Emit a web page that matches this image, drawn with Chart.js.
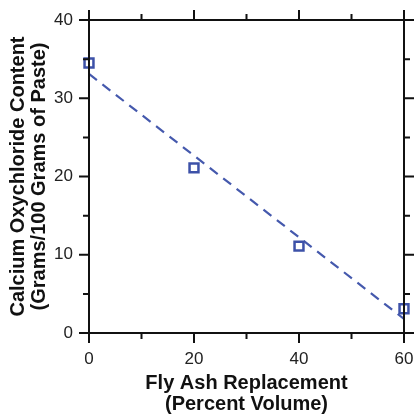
<!DOCTYPE html>
<html>
<head>
<meta charset="utf-8">
<script src="https://cdn.jsdelivr.net/npm/chart.js@4/dist/chart.umd.min.js"></script>
<style>
  body { margin: 0; background: #fff; }
</style>
</head>
<body>
<canvas id="chart" width="416" height="415"></canvas>
<script>
const flyAsh = [0, 20, 40, 60];          // percent volume
const oxychloride = [34.5, 21.1, 11.1, 3.1]; // g / 100 g paste
const fitX = [0, 60];
const fitY = [33.1, 1.8];

const blue = '#3d51a8';
const font = "'Liberation Sans', Arial, sans-serif";

// frame + outward ticks on all four sides, taken from the scales
const frameTicks = {
    id: 'frameTicks',
    afterDraw(chart) {
        const ctx = chart.ctx;
        const a = chart.chartArea;
        const xs = chart.scales.x, ys = chart.scales.y;
        ctx.save();
        ctx.strokeStyle = '#111';
        ctx.lineWidth = 2;
        ctx.strokeRect(a.left, a.top, a.right - a.left, a.bottom - a.top);
        ctx.beginPath();
        xs.ticks.forEach(t => {
            const px = xs.getPixelForValue(t.value);
            const len = t.value % 20 === 0 ? 10 : 6;
            ctx.moveTo(px, a.bottom); ctx.lineTo(px, a.bottom + len);
            ctx.moveTo(px, a.top); ctx.lineTo(px, a.top - len);
        });
        ys.ticks.forEach(t => {
            const py = ys.getPixelForValue(t.value);
            const len = t.value % 10 === 0 ? 10 : 6;
            ctx.moveTo(a.left, py); ctx.lineTo(a.left - len, py);
            ctx.moveTo(a.right, py); ctx.lineTo(a.right + len, py);
        });
        ctx.stroke();
        ctx.restore();
    }
};

new Chart(document.getElementById('chart'), {
    type: 'scatter',
    data: {
        datasets: [{
            data: flyAsh.map((x, i) => ({ x: x, y: oxychloride[i] })),
            pointStyle: 'rect',
            pointRadius: 6.3,
            pointBorderWidth: 2.5,
            borderColor: blue,
            backgroundColor: 'transparent',
            clip: false,
            order: 1
        }, {
            data: fitX.map((x, i) => ({ x: x, y: fitY[i] })),
            showLine: true,
            borderColor: '#4559ad',
            borderWidth: 2.2,
            borderDash: [10, 7],
            pointRadius: 0,
            clip: false,
            order: 2
        }]
    },
    options: {
        responsive: false,
        animation: false,
        layout: { padding: { left: 0, right: 12, top: 20, bottom: 0 } },
        plugins: { legend: { display: false }, tooltip: { enabled: false } },
        scales: {
            x: {
                min: 0, max: 60,
                afterFit: s => {
                    s.height = 82;
                    s.paddingLeft = 0; s.paddingRight = 0;
                },
                grid: { display: false, drawTicks: false, tickLength: 0 },
                border: { display: false },
                ticks: {
                    stepSize: 10,
                    autoSkip: false,
                    maxRotation: 0,
                    padding: 16,
                    color: '#222',
                    font: { family: font, size: 17 },
                    callback: v => v % 20 === 0 ? v : ''
                },
                title: {
                    display: true,
                    text: ['Fly Ash Replacement', '(Percent Volume)'],
                    color: '#111',
                    padding: { top: 0, bottom: 0 },
                    font: { family: font, size: 20, weight: 'bold', lineHeight: 1.05 }
                }
            },
            y: {
                min: 0, max: 40,
                afterFit: s => {
                    s.width = 89;
                    s.paddingTop = 0; s.paddingBottom = 0;
                },
                grid: { display: false, drawTicks: false, tickLength: 0 },
                border: { display: false },
                ticks: {
                    stepSize: 5,
                    autoSkip: false,
                    padding: 16,
                    color: '#222',
                    font: { family: font, size: 17 },
                    callback: v => v % 10 === 0 ? v : ''
                },
                title: {
                    display: true,
                    text: ['Calcium Oxychloride Content', '(Grams/100 Grams of Paste)'],
                    color: '#111',
                    padding: { top: 8, bottom: 0 },
                    font: { family: font, size: 20, weight: 'bold', lineHeight: 1.05 }
                }
            }
        }
    },
    plugins: [frameTicks]
});
</script>
</body>
</html>
